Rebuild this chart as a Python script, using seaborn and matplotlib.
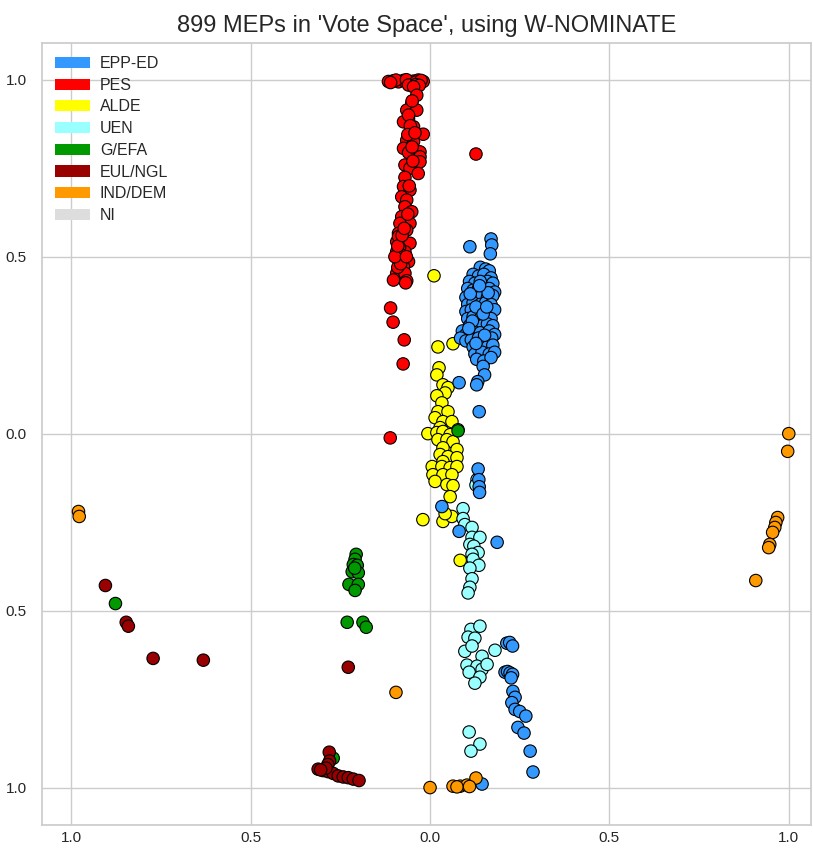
import matplotlib
matplotlib.use("Agg")
import matplotlib.pyplot as plt
from matplotlib.patches import Patch
import seaborn as sns
import pandas as pd

# Party groups, in legend order, with their colours
groups = ["EPP-ED", "PES", "ALDE", "UEN", "G/EFA", "EUL/NGL", "IND/DEM", "NI"]
colors = ["#3399FF", "#FF0000", "#FFFF00", "#99FFFF", "#009900", "#990000", "#FF9900", "#DDDDDD"]

# W-NOMINATE coordinates (dimension 1, dimension 2) per group
pes = [
    (-0.116, 0.995), (-0.102, 0.997), (-0.088, 0.994), (-0.074, 0.998), (-0.060, 0.993),
    (-0.046, 0.996), (-0.033, 0.999), (-0.019, 0.995), (-0.095, 0.999), (-0.066, 1.000),
    (-0.040, 0.993), (-0.025, 0.998), (-0.110, 0.992), (-0.060, 0.985), (-0.040, 0.986),
    (-0.030, 0.984), (-0.046, 0.980), (-0.037, 0.956), (-0.051, 0.933), (-0.065, 0.914),
    (-0.037, 0.914), (-0.060, 0.890), (-0.074, 0.881), (-0.046, 0.867), (-0.019, 0.846),
    (-0.065, 0.829), (-0.046, 0.825), (-0.074, 0.806), (-0.060, 0.794), (-0.028, 0.796),
    (-0.028, 0.782), (-0.028, 0.768), (-0.070, 0.759), (-0.056, 0.750), (-0.033, 0.735),
    (-0.070, 0.724), (-0.074, 0.698), (-0.056, 0.688), (-0.079, 0.669), (-0.065, 0.660),
    (-0.070, 0.641), (-0.051, 0.627), (-0.079, 0.613), (-0.056, 0.594), (-0.084, 0.594),
    (-0.088, 0.566), (-0.065, 0.575), (-0.093, 0.542), (-0.074, 0.538), (-0.056, 0.538),
    (-0.074, 0.514), (-0.088, 0.557), (-0.093, 0.514), (-0.070, 0.514), (-0.084, 0.491),
    (-0.060, 0.486), (-0.074, 0.472), (-0.093, 0.453), (-0.070, 0.453), (-0.102, 0.434),
    (-0.065, 0.432), (-0.068, 0.426), (-0.085, 0.525), (-0.080, 0.505), (-0.090, 0.470),
    (-0.060, 0.900), (-0.050, 0.940), (-0.055, 0.870), (-0.062, 0.845), (-0.050, 0.810),
    (-0.082, 0.480), (-0.098, 0.500), (-0.066, 0.500), (-0.090, 0.530), (-0.078, 0.560),
    (-0.062, 0.620), (-0.072, 0.580), (-0.058, 0.700), (-0.048, 0.770), (-0.042, 0.850),
    (0.128, 0.790), (-0.110, 0.355), (-0.103, 0.315), (-0.072, 0.265), (-0.075, 0.197),
    (-0.111, -0.012),
]
epp = [
    (0.111, 0.528), (0.170, 0.550), (0.172, 0.533), (0.168, 0.508),
    (0.140, 0.470), (0.155, 0.465), (0.165, 0.460),
    (0.120, 0.450), (0.135, 0.445), (0.150, 0.450), (0.170, 0.440), (0.160, 0.430),
    (0.110, 0.430), (0.125, 0.425), (0.140, 0.430), (0.175, 0.425),
    (0.105, 0.410), (0.120, 0.405), (0.135, 0.410), (0.150, 0.405), (0.165, 0.410), (0.180, 0.400),
    (0.100, 0.385), (0.115, 0.390), (0.130, 0.385), (0.145, 0.390), (0.160, 0.385), (0.175, 0.390),
    (0.105, 0.365), (0.120, 0.370), (0.140, 0.365), (0.155, 0.370), (0.170, 0.365),
    (0.100, 0.345), (0.115, 0.350), (0.130, 0.345), (0.150, 0.350), (0.165, 0.345), (0.180, 0.350),
    (0.105, 0.325), (0.120, 0.330), (0.140, 0.325), (0.155, 0.330), (0.170, 0.325),
    (0.110, 0.305), (0.125, 0.310), (0.145, 0.305), (0.160, 0.310), (0.175, 0.305),
    (0.090, 0.290), (0.100, 0.280), (0.120, 0.290), (0.140, 0.285), (0.165, 0.290), (0.180, 0.280),
    (0.085, 0.270), (0.100, 0.262), (0.115, 0.265), (0.135, 0.270), (0.155, 0.265), (0.172, 0.270),
    (0.120, 0.245), (0.140, 0.250), (0.160, 0.245), (0.175, 0.250),
    (0.125, 0.225), (0.145, 0.230), (0.165, 0.225), (0.180, 0.230),
    (0.130, 0.210), (0.150, 0.205), (0.170, 0.215),
    (0.112, 0.395), (0.128, 0.358), (0.148, 0.338), (0.118, 0.318), (0.162, 0.398),
    (0.108, 0.297), (0.152, 0.278), (0.128, 0.255), (0.158, 0.358), (0.138, 0.418),
    (0.148, 0.190), (0.152, 0.166), (0.133, 0.147), (0.130, 0.138), (0.081, 0.144), (0.137, 0.062),
    (0.134, -0.100), (0.136, -0.130), (0.137, -0.150), (0.138, -0.166),
    (0.033, -0.206), (0.081, -0.276), (0.187, -0.307),
    (0.214, -0.592), (0.222, -0.590), (0.230, -0.600),
    (0.209, -0.674), (0.216, -0.672), (0.223, -0.676), (0.230, -0.680), (0.226, -0.690),
    (0.231, -0.728), (0.237, -0.745), (0.228, -0.760), (0.237, -0.779), (0.250, -0.785),
    (0.267, -0.798), (0.245, -0.830), (0.262, -0.846), (0.279, -0.897), (0.287, -0.956),
    (0.145, -0.990),
]
alde = [
    (0.011, 0.446), (0.022, 0.245), (0.064, 0.254), (0.025, 0.186), (0.019, 0.166),
    (0.036, 0.138), (0.050, 0.130), (0.042, 0.115), (0.019, 0.107), (0.033, 0.087),
    (0.022, 0.062), (0.050, 0.062), (0.014, 0.045), (0.036, 0.034), (0.061, 0.034),
    (0.028, 0.017), (0.078, 0.011), (-0.006, 0.000), (0.019, 0.003), (0.036, 0.006),
    (0.056, -0.003), (0.022, -0.017), (0.047, -0.017), (0.064, -0.023), (0.036, -0.040),
    (0.075, -0.045), (0.028, -0.059), (0.050, -0.065), (0.075, -0.068), (0.036, -0.079),
    (0.006, -0.093), (0.033, -0.093), (0.056, -0.096), (0.075, -0.093), (0.008, -0.116),
    (0.036, -0.116), (0.061, -0.116), (0.014, -0.135), (0.047, -0.144), (0.064, -0.147),
    (0.056, -0.178), (-0.020, -0.243), (0.036, -0.248), (0.061, -0.234), (0.042, -0.226),
    (0.084, -0.358),
]
uen = [
    (0.131, -0.130), (0.128, -0.145),
    (0.092, -0.212), (0.092, -0.240), (0.097, -0.257), (0.117, -0.265), (0.117, -0.293),
    (0.139, -0.293), (0.111, -0.313), (0.122, -0.318), (0.134, -0.336), (0.117, -0.341),
    (0.120, -0.355), (0.136, -0.372), (0.111, -0.380), (0.117, -0.410), (0.111, -0.434),
    (0.106, -0.450),
    (0.114, -0.553), (0.139, -0.544), (0.106, -0.575), (0.125, -0.578), (0.097, -0.615),
    (0.117, -0.600), (0.145, -0.629), (0.181, -0.612), (0.103, -0.654), (0.131, -0.657),
    (0.145, -0.666), (0.159, -0.652), (0.109, -0.674), (0.139, -0.688), (0.125, -0.705),
    (0.109, -0.843), (0.139, -0.877), (0.114, -0.897),
]
gefa = [
    (-0.206, -0.341), (-0.209, -0.355), (-0.214, -0.370), (-0.203, -0.372), (-0.217, -0.390),
    (-0.200, -0.393), (-0.210, -0.380), (-0.226, -0.426), (-0.200, -0.426), (-0.209, -0.443),
    (-0.231, -0.533), (-0.187, -0.533), (-0.178, -0.547), (0.078, 0.008), (-0.877, -0.480),
    (-0.270, -0.917),
]
eul = [
    (-0.905, -0.429), (-0.847, -0.533), (-0.841, -0.544), (-0.772, -0.635), (-0.632, -0.640),
    (-0.228, -0.660), (-0.281, -0.900), (-0.280, -0.925), (-0.285, -0.935), (-0.312, -0.948),
    (-0.298, -0.952), (-0.284, -0.955), (-0.270, -0.960), (-0.256, -0.967), (-0.242, -0.970),
    (-0.228, -0.972), (-0.214, -0.976), (-0.198, -0.980), (-0.290, -0.945), (-0.305, -0.950),
]
inddem = [
    (-0.980, -0.220), (-0.978, -0.234), (1.000, 0.000), (0.997, -0.050), (0.969, -0.237),
    (0.964, -0.251), (0.961, -0.265), (0.955, -0.279), (0.947, -0.313), (0.944, -0.322),
    (0.908, -0.415), (-0.095, -0.731), (0.000, -1.000), (0.064, -0.996), (0.084, -0.996),
    (0.103, -0.993), (0.128, -0.973), (0.075, -0.998), (0.110, -0.997),
]
ni = []

tick_values = [-1.0, -0.5, 0.0, 0.5, 1.0]
tick_labels = ["1.0", "0.5", "0.0", "0.5", "1.0"]

members = {"ALDE": alde, "UEN": uen, "EPP-ED": epp, "PES": pes, "G/EFA": gefa,
           "EUL/NGL": eul, "IND/DEM": inddem, "NI": ni}
rows = [(x, y, g) for g, pts in members.items() for (x, y) in pts]
df = pd.DataFrame(rows, columns=["dim1", "dim2", "group"])

sns.set_theme(style="whitegrid")
plt.rcParams["font.family"] = ["Liberation Sans", "DejaVu Sans"]

fig = plt.figure(figsize=(8.13, 8.48), dpi=100)
ax = fig.add_axes([0.052, 0.027, 0.946, 0.922])

palette = dict(zip(groups, colors))
sns.scatterplot(data=df, x="dim1", y="dim2", hue="group", palette=palette,
                s=80, edgecolor="black", linewidth=0.8, legend=False, ax=ax, zorder=3)

ax.set_xlim(-1.081, 1.063)
ax.set_ylim(-1.106, 1.103)
ax.set_xticks(tick_values)
ax.set_xticklabels(tick_labels, fontsize=11)
ax.set_yticks(tick_values)
ax.set_yticklabels(tick_labels, fontsize=11)
ax.tick_params(axis="x", pad=-2)
ax.tick_params(axis="y", pad=5)
ax.set_xlabel("")
ax.set_ylabel("")
ax.grid(color="#cccccc", linewidth=1.0)
for sp in ax.spines.values():
    sp.set_color("#cccccc")

ax.set_title("899 MEPs in 'Vote Space', using W-NOMINATE", fontsize=17, color="#262626", pad=8)

handles = [Patch(facecolor=c, edgecolor="none", label=g) for g, c in zip(groups, colors)]
ax.legend(handles=handles, loc="upper left", frameon=False, fontsize=11.5,
          handlelength=2.2, handleheight=0.7, handletextpad=0.6,
          labelspacing=0.42, borderaxespad=0.4)

fig.savefig("out.png", dpi=100)
